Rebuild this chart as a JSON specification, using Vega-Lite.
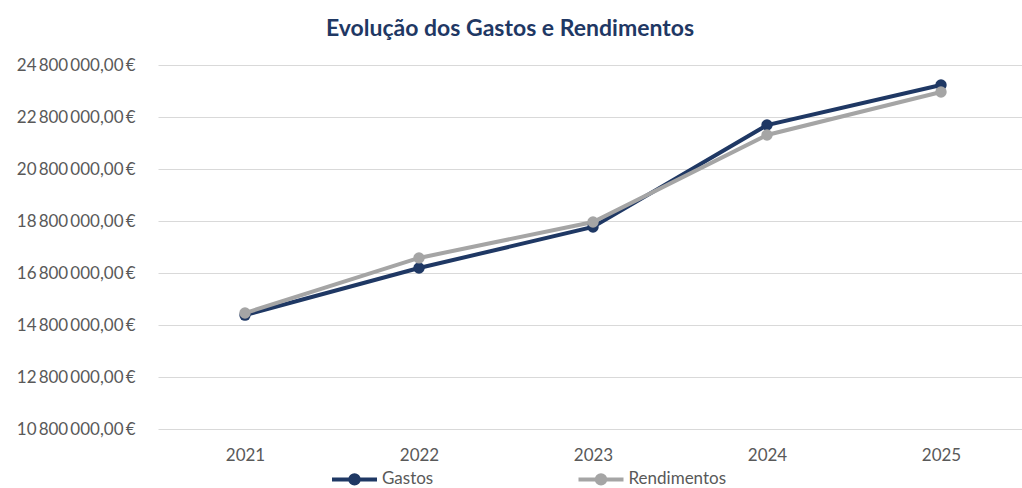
{
  "$schema": "https://vega.github.io/schema/vega-lite/v6.json",
  "autosize": {"type": "none"},
  "padding": {"left": 158, "top": 65, "right": 0, "bottom": 59},
  "width": 870,
  "height": 364,
  "background": "white",
  "title": {
    "text": "Evolução dos Gastos e Rendimentos",
    "font": "Lato",
    "fontSize": 23,
    "fontWeight": "bold",
    "color": "#1F3864",
    "anchor": "middle",
    "dx": -83,
    "offset": 15
  },
  "config": {
    "locale": {
      "number": {"decimal": ",", "thousands": "\u2009", "grouping": [3], "currency": ["", "\u2009€"]}
    },
    "view": {"stroke": null},
    "axis": {"labelFont": "Lato", "labelFontSize": 17, "labelColor": "#595959"}
  },
  "data": {
    "values": [
      {"year": "2021", "serie": "Gastos", "value": 15180000},
      {"year": "2022", "serie": "Gastos", "value": 16990000},
      {"year": "2023", "serie": "Gastos", "value": 18570000},
      {"year": "2024", "serie": "Gastos", "value": 22490000},
      {"year": "2025", "serie": "Gastos", "value": 24030000},
      {"year": "2021", "serie": "Rendimentos", "value": 15260000},
      {"year": "2022", "serie": "Rendimentos", "value": 17380000},
      {"year": "2023", "serie": "Rendimentos", "value": 18760000},
      {"year": "2024", "serie": "Rendimentos", "value": 22110000},
      {"year": "2025", "serie": "Rendimentos", "value": 23760000}
    ]
  },
  "encoding": {
    "x": {
      "field": "year",
      "type": "ordinal",
      "axis": {"title": null, "labelAngle": 0, "ticks": false, "domain": false, "labelPadding": 18, "grid": false}
    },
    "y": {
      "field": "value",
      "type": "quantitative",
      "scale": {"domain": [10800000, 24800000], "nice": false, "zero": false},
      "axis": {
        "title": null,
        "values": [10800000, 12800000, 14800000, 16800000, 18800000, 20800000, 22800000, 24800000],
        "format": "$,.2f",
        "ticks": false,
        "domain": false,
        "labelPadding": 23,
        "gridColor": "#D9D9D9",
        "gridWidth": 1
      }
    },
    "color": {
      "field": "serie",
      "type": "nominal",
      "scale": {"domain": ["Gastos", "Rendimentos"], "range": ["#1F3864", "#A5A5A5"]},
      "legend": {
        "title": null,
        "orient": "none",
        "legendX": 184.5,
        "legendY": 402,
        "direction": "horizontal",
        "symbolType": "M-2.25,0L2.25,0M0.42,0A0.42,0.42,0,1,1,-0.42,0A0.42,0.42,0,1,1,0.42,0Z",
        "symbolSize": 400,
        "symbolStrokeWidth": 4,
        "labelFont": "Lato",
        "labelFontSize": 17,
        "labelColor": "#595959",
        "labelOffset": 15.5,
        "columnPadding": 136.5,
        "encode": {
          "symbols": {
            "update": {
              "fill": {"signal": "scale('color', datum.value)"},
              "stroke": {"signal": "scale('color', datum.value)"},
              "strokeWidth": {"value": 4},
              "opacity": {"value": 1}
            }
          }
        }
      }
    }
  },
  "layer": [
    {"mark": {"type": "line", "strokeWidth": 4}},
    {"mark": {"type": "point", "filled": true, "size": 130, "opacity": 1}}
  ]
}
